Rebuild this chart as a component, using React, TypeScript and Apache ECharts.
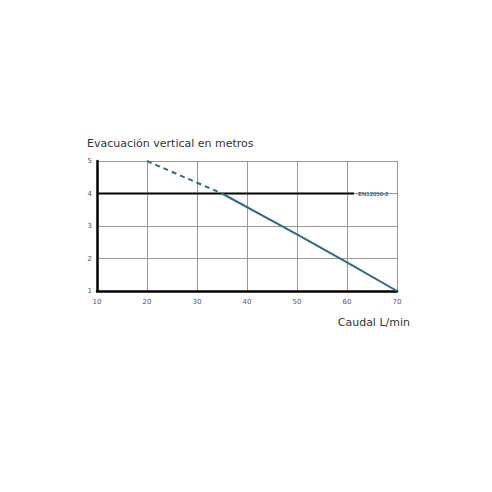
import React, { useEffect, useRef } from "react";
import * as echarts from "echarts";

const xTicks = [10, 20, 30, 40, 50, 60, 70];
const yTicks = [1, 2, 3, 4, 5];
const dashedCurve: [number, number][] = [[20, 5], [35, 4]];
const solidCurve: [number, number][] = [[35, 4], [50, 2.74], [60, 1.88], [70, 1]];
const standardLine: [number, number][] = [[10, 4], [61.4, 4]];
const standardName = "EN12050-2";

export default function App() {
  const ref = useRef<HTMLDivElement>(null);
  useEffect(() => {
    const chart = echarts.init(ref.current!, undefined, { renderer: "svg" });
    const curveColor = "#2e6c7c";
    chart.setOption({
      animation: false,
      backgroundColor: "#ffffff",
      textStyle: { fontFamily: "DejaVu Sans" },
      title: {
        text: "Evacuación vertical en metros",
        left: 74,
        top: 125,
        textStyle: { fontSize: 11, fontWeight: "normal", color: "#333", fontFamily: "DejaVu Sans" },
      },
      graphic: [
        {
          type: "text",
          right: 74,
          top: 309,
          style: { text: "Caudal L/min", fontSize: 11, fill: "#333", fontFamily: "DejaVu Sans" },
        },
      ],
      grid: { left: 89, right: 87, top: 153, bottom: 193 },
      xAxis: {
        type: "value",
        min: xTicks[0],
        max: xTicks[xTicks.length - 1],
        interval: 10,
        axisLine: { show: true, lineStyle: { color: "#000", width: 2.5 } },
        axisTick: { show: false },
        axisLabel: { fontSize: 7, color: "#555", margin: 7 },
        splitLine: { show: true, lineStyle: { color: "#999", width: 1 } },
      },
      yAxis: {
        type: "value",
        min: yTicks[0],
        max: yTicks[yTicks.length - 1],
        interval: 1,
        axisLine: { show: true, onZero: false, lineStyle: { color: "#000", width: 2.5 } },
        axisTick: { show: false },
        axisLabel: { fontSize: 7, color: "#555", margin: 5 },
        splitLine: { show: true, lineStyle: { color: "#999", width: 1 } },
      },
      series: [
        {
          type: "line",
          data: standardLine,
          symbol: "none",
          lineStyle: { color: "#000", width: 2 },
          endLabel: {
            show: true,
            formatter: standardName,
            fontSize: 6,
            fontWeight: "bold",
            fontFamily: "Liberation Sans Narrow, Liberation Sans, sans-serif",
            color: "#2e5f7a",
            distance: 4,
          },
          z: 3,
        },
        {
          type: "line",
          data: dashedCurve,
          symbol: "none",
          lineStyle: { color: curveColor, width: 2, type: [5, 4] },
          z: 4,
        },
        {
          type: "line",
          data: solidCurve,
          symbol: "none",
          lineStyle: { color: curveColor, width: 2 },
          z: 4,
        },
      ],
    });
    return () => chart.dispose();
  }, []);
  return <div ref={ref} style={{ width: 476, height: 476 }} />;
}
